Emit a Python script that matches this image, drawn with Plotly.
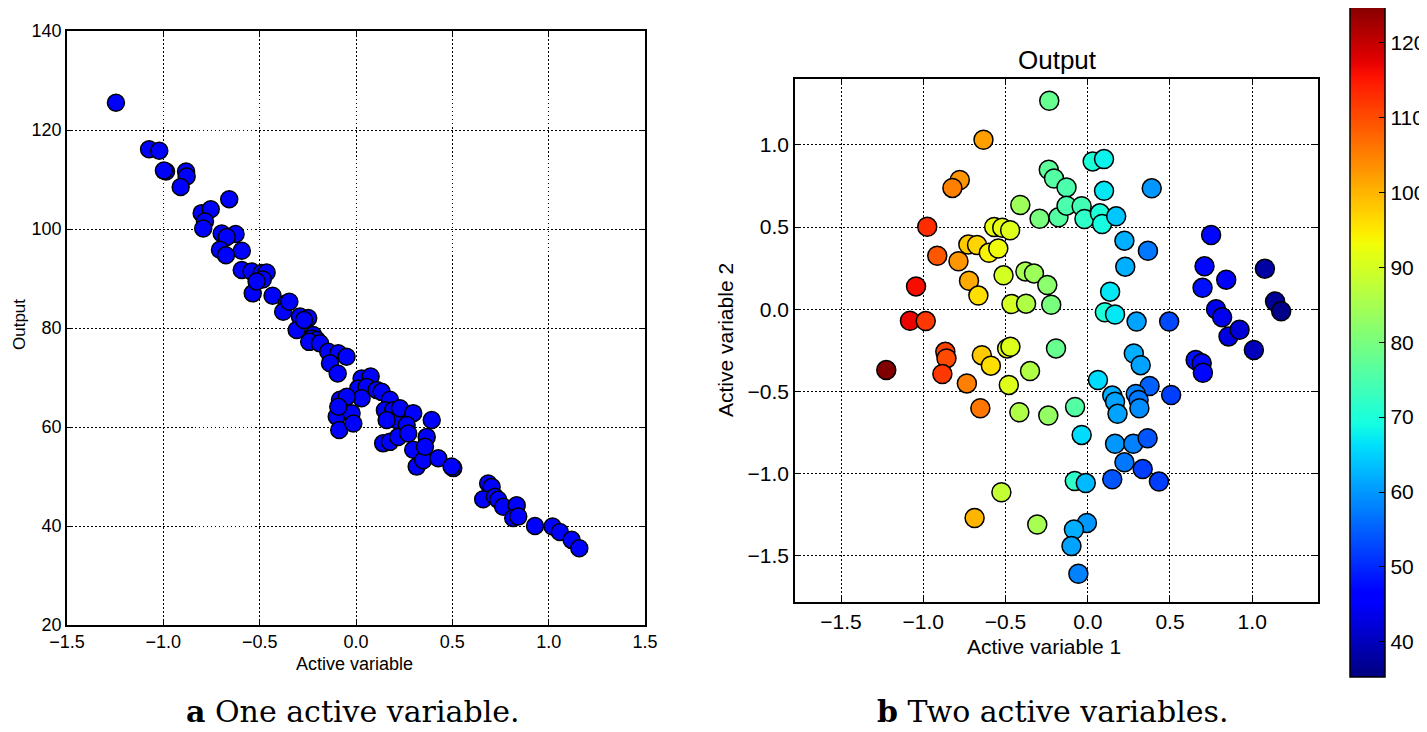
import numpy as np
import plotly.graph_objects as go

# ---------------- data: panel a (one active variable) ----------------
a_active = [-1.246, -1.074, -1.021, -0.986, -0.997, -0.882, -0.879, -0.910, -0.658, -0.801,
            -0.754, -0.784, -0.793, -0.697, -0.625, -0.671, -0.593, -0.706, -0.675, -0.593,
            -0.542, -0.490, -0.464, -0.536, -0.484, -0.516, -0.433, -0.360, -0.378, -0.346,
            -0.291, -0.248, -0.308, -0.222, -0.270, -0.230, -0.204, -0.243, -0.187, -0.144,
            -0.092, -0.049, -0.135, -0.095, 0.029, 0.076, 0.012, 0.055, 0.107, 0.133,
            0.029, -0.083, -0.048, -0.100, -0.087, -0.023, -0.014, -0.092, 0.176, 0.150,
            0.193, 0.211, 0.159, 0.228, 0.297, 0.263, 0.393, 0.141, 0.176, 0.219,
            0.271, 0.297, 0.315, 0.349, 0.367, 0.358, 0.427, 0.505, 0.496, 0.686,
            0.704, 0.660, 0.721, 0.738, 0.764, 0.834, 0.816, 0.842, 0.929, 1.020,
            1.058, 1.119, 1.159]
a_output = [125.5, 116.1, 115.8, 111.6, 111.8, 111.6, 110.6, 108.5, 106.0, 103.2,
            104.0, 101.5, 100.1, 99.1, 99.0, 98.4, 95.6, 95.8, 94.7, 91.7,
            91.4, 91.1, 91.2, 87.0, 89.8, 89.4, 86.5, 85.0, 83.3, 85.3,
            82.3, 82.0, 79.6, 78.6, 81.6, 77.9, 77.6, 77.2, 76.9, 75.2,
            74.9, 74.2, 72.9, 70.8, 69.8, 70.2, 67.8, 68.1, 67.5, 67.1,
            65.8, 65.5, 66.1, 62.1, 59.4, 62.8, 60.7, 64.1, 65.5, 63.4,
            63.4, 61.4, 61.4, 63.8, 62.8, 60.4, 61.4, 56.7, 57.0, 58.0,
            58.7, 55.4, 52.0, 53.3, 58.0, 56.0, 53.7, 51.7, 52.0, 48.6,
            47.9, 45.4, 45.9, 45.3, 43.9, 44.2, 41.6, 41.9, 40.0, 39.9,
            38.8, 37.2, 35.5]

# ---------------- data: panel b (two active variables) ----------------
b_active1 = [-0.234, -0.634, -0.778, -0.823, -0.410, -0.293, -0.976, -0.569, -0.520, -0.472,
             -0.915, -0.786, -0.726, -0.673, -0.601, -0.544, -0.722, -0.665, -0.512, -0.379,
             -0.327, -0.246, -0.464, -0.375, -0.222, -1.044, -1.081, -0.985, -0.237, -0.205,
             -0.129, 0.030, 0.099, 0.099, 0.389, -0.178, -0.129, -0.037, -0.020, 0.074,
             0.087, 0.173, 0.223, 0.366, 0.228, 0.136, 0.104, 0.166, 0.297, 0.495,
             0.750, 0.710, 0.698, 0.842, 0.780, 0.817, 0.856, 0.923, 1.077, 1.139,
             1.176, -1.225, -0.866, -0.859, -0.884, -0.735, -0.653, -0.644, -0.589, -0.490,
             -0.470, -0.480, -0.351, -0.416, -0.240, -0.193, -0.077, -0.037, 0.062, 0.149,
             0.166, 0.181, 0.280, 0.322, 0.376, 0.292, 0.309, 0.314, 0.507, 0.656,
             0.693, 0.700, 1.010, 0.166, 0.277, 0.364, 0.223, 0.334, 0.149, 0.433,
             -0.079, -0.012, -0.525, -0.688, -0.307, -0.005, -0.084, -0.099, -0.057]
b_active2 = [1.268, 1.031, 0.786, 0.738, 0.634, 0.550, 0.502, 0.500, 0.496, 0.480,
             0.325, 0.292, 0.393, 0.391, 0.343, 0.369, 0.173, 0.083, 0.206, 0.230,
             0.218, 0.147, 0.032, 0.034, 0.027, 0.139, -0.070, -0.072, 0.848, 0.795,
             0.741, 0.899, 0.913, 0.720, 0.735, 0.559, 0.630, 0.626, 0.549, 0.583,
             0.518, 0.565, 0.417, 0.356, 0.259, 0.107, -0.018, -0.032, -0.075, -0.075,
             0.451, 0.261, 0.130, 0.180, 0.000, -0.049, -0.165, -0.125, 0.247, 0.047,
             -0.012, -0.370, -0.259, -0.299, -0.394, -0.451, -0.602, -0.279, -0.343, -0.238,
             -0.228, -0.460, -0.376, -0.626, -0.646, -0.238, -0.594, -0.764, -0.430, -0.525,
             -0.562, -0.636, -0.269, -0.340, -0.467, -0.515, -0.552, -0.602, -0.521, -0.309,
             -0.329, -0.386, -0.248, -0.818, -0.818, -0.784, -0.931, -0.972, -1.034, -1.048,
             -1.044, -1.057, -1.113, -1.269, -1.309, -1.299, -1.339, -1.440, -1.608]
b_output = [78, 102, 103, 105, 84, 80, 113, 92, 92, 91,
            109, 103, 98, 97, 94, 93, 101, 96, 90, 85,
            84, 82, 90, 86, 80, 116, 117, 112, 77, 76,
            75, 70, 68, 67, 60, 76, 75, 74, 72, 70,
            69, 64, 62, 57, 62, 67, 70, 67, 61, 53,
            47, 47, 48, 45, 44, 44, 43, 42, 38, 37,
            36, 125.3, 111, 110, 112, 105, 106, 98, 96, 92,
            91, 91, 86, 86, 83, 78, 76, 66, 66, 62,
            61, 61, 62, 61, 55, 58, 57, 59, 52, 48,
            47, 47, 40, 60, 58, 54, 57, 52, 54, 52,
            72, 63, 88, 100, 85, 60, 62, 61, 58]

a_xticks = [-1.5, -1.0, -0.5, 0.0, 0.5, 1.0, 1.5]
a_yticks = [20, 40, 60, 80, 100, 120, 140]
b_ticks = [-1.5, -1.0, -0.5, 0.0, 0.5, 1.0]
cbar_ticks = [40, 50, 60, 70, 80, 90, 100, 110, 120]

# ---------------- matplotlib "jet" colormap ----------------
def _chan(pts, t):
    xs = [p[0] for p in pts]
    ys = [p[1] for p in pts]
    return np.interp(t, xs, ys)

_t = np.linspace(0, 1, 65)
_r = _chan([(0, 0), (0.35, 0), (0.66, 1), (0.89, 1), (1, 0.5)], _t)
_g = _chan([(0, 0), (0.125, 0), (0.375, 1), (0.64, 1), (0.91, 0), (1, 0)], _t)
_b = _chan([(0, 0.5), (0.11, 1), (0.34, 1), (0.65, 0), (1, 0)], _t)
jet = [[float(t), f"rgb({int(round(r*255))},{int(round(g*255))},{int(round(b*255))})"]
       for t, r, g, b in zip(_t, _r, _g, _b)]

# The page body has an 8px margin, so the figure is drawn 8px in from the corner.
OFF = 8
W, H = 1427 - OFF, 732 - OFF
def px(x):
    return (x - OFF) / W
def py(y):
    return 1 - (y - OFF) / H

SANS = "Liberation Sans, Arial, Helvetica, sans-serif"
SERIF = "DejaVu Serif, Liberation Serif, serif"

fig = go.Figure()
fig.add_trace(go.Scatter(
    x=a_active, y=a_output, mode="markers", xaxis="x", yaxis="y",
    marker=dict(size=17, color="rgb(0,0,255)", line=dict(color="black", width=1.5)),
    showlegend=False))
fig.add_trace(go.Scatter(
    x=b_active1, y=b_active2, mode="markers", xaxis="x2", yaxis="y2",
    marker=dict(size=19, color=b_output, colorscale=jet, cmin=35.3, cmax=125.3,
                line=dict(color="black", width=1.5),
                colorbar=dict(x=px(1350), xanchor="left", y=py(3), yanchor="top",
                              len=674 / H, lenmode="fraction",
                              thickness=35, thicknessmode="pixels",
                              outlinewidth=1.5, outlinecolor="black",
                              tickvals=cbar_ticks, ticks="inside", ticklen=6,
                              tickcolor="black", tickwidth=1,
                              tickfont=dict(family=SANS, size=21, color="black"),
                              xpad=0, ypad=0)),
    showlegend=False))

axis_common = dict(showline=True, linecolor="black", linewidth=1.5, mirror="ticks",
                   ticks="inside", ticklen=5, tickcolor="black", tickwidth=1,
                   showgrid=True, gridcolor="black", gridwidth=1.2, griddash="1.5px,2.5px",
                   zeroline=False, automargin=False)

fig.update_layout(
    width=W, height=H,
    margin=dict(l=0, r=0, t=0, b=0, autoexpand=False),
    paper_bgcolor="white", plot_bgcolor="white",
    xaxis=dict(domain=[px(67), px(645)], range=[-1.5, 1.5], tickvals=a_xticks,
               tickformat=".1f", anchor="y",
               tickfont=dict(family=SANS, size=18, color="black"), **axis_common),
    yaxis=dict(domain=[py(625), py(31)], range=[20, 140], tickvals=a_yticks,
               anchor="x", tickfont=dict(family=SANS, size=18, color="black"), **axis_common),
    xaxis2=dict(domain=[px(795), px(1318)], range=[-1.78, 1.4], tickvals=b_ticks,
                tickformat=".1f", anchor="y2",
                tickfont=dict(family=SANS, size=21, color="black"), **axis_common),
    yaxis2=dict(domain=[py(602), py(79)], range=[-1.78, 1.4], tickvals=b_ticks,
                tickformat=".1f", anchor="x2",
                tickfont=dict(family=SANS, size=21, color="black"), **axis_common),
)

ann = [
    dict(text="Active variable", x=px(354), y=py(664), font=dict(family=SANS, size=18)),
    dict(text="Output", x=px(19), y=py(325), textangle=-90, font=dict(family=SANS, size=17)),
    dict(text="Active variable 1", x=px(1044), y=py(646), font=dict(family=SANS, size=21)),
    dict(text="Active variable 2", x=px(725), y=py(340), textangle=-90, font=dict(family=SANS, size=21)),
    dict(text="Output", x=px(1057), y=py(60), font=dict(family=SANS, size=26)),
    dict(text="<b>a</b> One active variable.", x=px(353), y=py(711), font=dict(family=SERIF, size=30)),
    dict(text="<b>b</b> Two active variables.", x=px(1052), y=py(711), font=dict(family=SERIF, size=30)),
]
for a in ann:
    a.update(xref="paper", yref="paper", showarrow=False, xanchor="center", yanchor="middle")
    a["font"]["color"] = "black"
fig.update_layout(annotations=ann)

fig.write_html("out.html")
